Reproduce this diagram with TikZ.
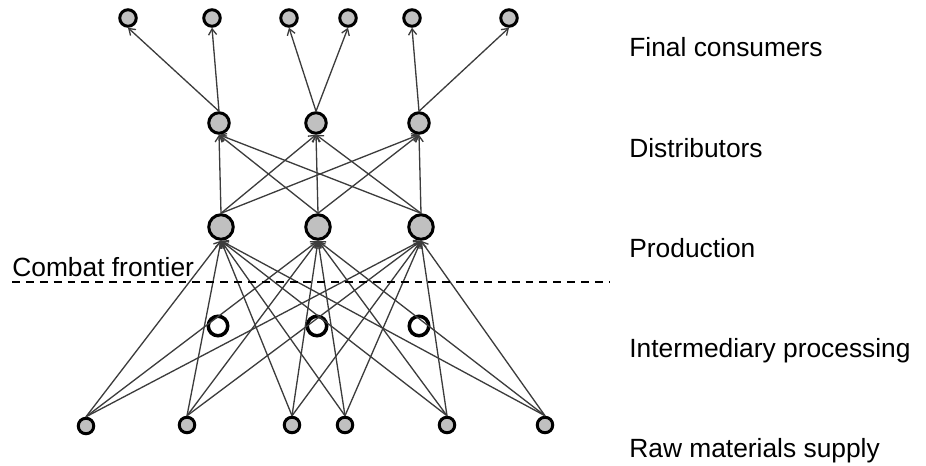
\documentclass[tikz,border=0pt]{standalone}
\usepackage{fontspec}
\setmainfont{Liberation Sans}
\definecolor{nodegray}{RGB}{192, 192, 192}
\definecolor{linkgray}{RGB}{60, 60, 60}
\usetikzlibrary{arrows.meta}
\usepackage{xcolor}
\tikzset{
    consumer/.style={circle, draw=black, line width=1.7pt, fill=nodegray, inner sep=0pt, minimum size=0.33cm},
    distributor/.style={circle, draw=black, line width=1.7pt, fill=nodegray, inner sep=0pt, minimum size=0.41cm},
    producer/.style={circle, draw=black, line width=1.7pt, fill=nodegray, inner sep=0pt, minimum size=0.49cm},
    processor/.style={circle, draw=black, line width=2pt, inner sep=0pt, minimum size=0.39cm},
    supplier/.style={circle, draw=black, line width=1.7pt, fill=nodegray, inner sep=0pt, minimum size=0.31cm},
    link/.style={linkgray, line width=0.75pt, -{Straight Barb[length=3.4pt, width=4.6pt]}},
    frontier/.style={black, line width=1.1pt, dash pattern=on 4.5pt off 3.4pt},
    layerlabel/.style={anchor=base west, inner sep=0pt, font=\fontsize{15pt}{18pt}\selectfont}
}

\begin{document}
\begin{tikzpicture}[x=0.02cm, y=-0.02cm]
        \useasboundingbox (0,0) rectangle (926,466);

        % Final consumers
        \node[consumer] (cons1) at (128, 18) {};
        \node[consumer] (cons2) at (212, 18) {};
        \node[consumer] (cons3) at (289, 18) {};
        \node[consumer] (cons4) at (348, 18) {};
        \node[consumer] (cons5) at (412, 18) {};
        \node[consumer] (cons6) at (509, 18) {};

        % Distributors
        \node[distributor] (dist1) at (219, 123) {};
        \node[distributor] (dist2) at (316, 123) {};
        \node[distributor] (dist3) at (419, 123) {};

        % Production
        \node[producer] (prod1) at (221, 227) {};
        \node[producer] (prod2) at (318, 227) {};
        \node[producer] (prod3) at (421, 227) {};

        % Intermediary processing
        \node[processor] (inter1) at (218, 326) {};
        \node[processor] (inter2) at (317, 326) {};
        \node[processor] (inter3) at (419, 326) {};

        % Raw materials supply
        \node[supplier] (raw1) at (86, 426) {};
        \node[supplier] (raw2) at (187, 425) {};
        \node[supplier] (raw3) at (292, 425) {};
        \node[supplier] (raw4) at (345, 425) {};
        \node[supplier] (raw5) at (447, 425) {};
        \node[supplier] (raw6) at (545, 425) {};

        % Links
        \draw[link] (dist1.north) -- (cons1.south);
        \draw[link] (dist1.north) -- (cons2.south);
        \draw[link] (dist2.north) -- (cons3.south);
        \draw[link] (dist2.north) -- (cons4.south);
        \draw[link] (dist3.north) -- (cons5.south);
        \draw[link] (dist3.north) -- (cons6.south);
        \foreach \p in {1,2,3}
            \foreach \d in {1,2,3}
                \draw[link] (prod\p.north) -- (dist\d.south);
        \foreach \r in {1,...,6}
            \foreach \p in {1,2,3}
                \draw[link] (raw\r.north) -- (prod\p.south);

        % Combat frontier
        \coordinate (frontL) at (12, 282);
        \coordinate (frontR) at (610, 282);
        \draw[frontier] (frontL) -- (frontR);
        \node[layerlabel] (lblfront) at (12, 276) {Combat frontier};

        % Layer labels
        \node[layerlabel] (lblcons) at (629, 57) {Final consumers};
        \node[layerlabel] (lbldist) at (629, 157) {Distributors};
        \node[layerlabel] (lblprod) at (629, 257) {Production};
        \node[layerlabel] (lblinter) at (629, 357) {Intermediary processing};
        \node[layerlabel] (lblraw) at (629, 457) {Raw materials supply};
    \end{tikzpicture}
\end{document}
